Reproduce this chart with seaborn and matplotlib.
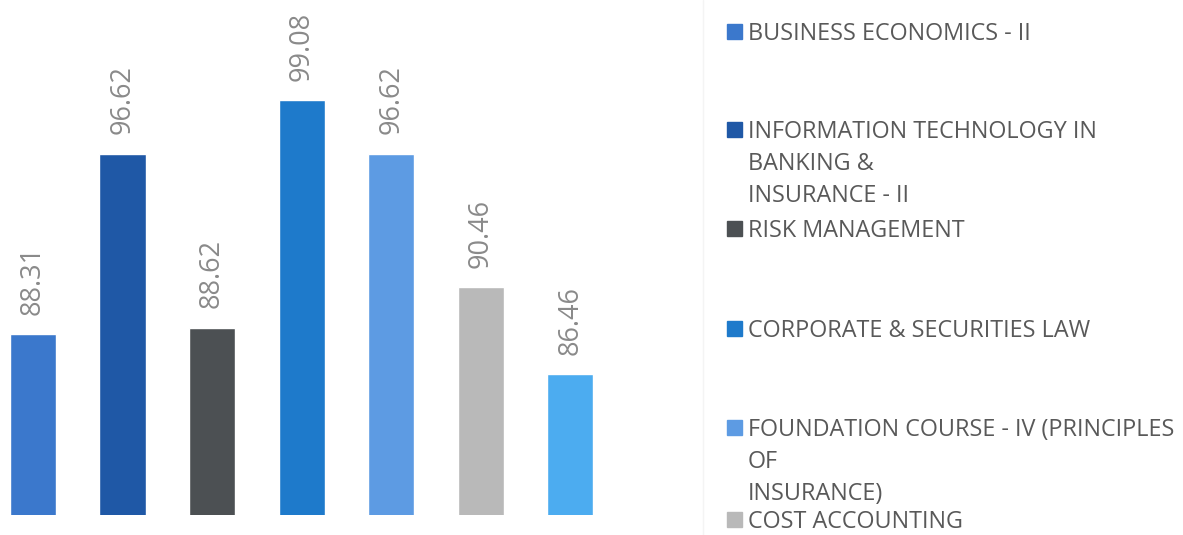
import matplotlib
matplotlib.use("Agg")
import matplotlib.pyplot as plt
from matplotlib.patches import Rectangle
from matplotlib.lines import Line2D
import seaborn as sns

# subject-wise pass percentage
subjects = [
    "BUSINESS ECONOMICS - II",
    "INFORMATION TECHNOLOGY IN\nBANKING &\nINSURANCE - II",
    "RISK MANAGEMENT",
    "CORPORATE & SECURITIES LAW",
    "FOUNDATION COURSE - IV (PRINCIPLES\nOF\nINSURANCE)",
    "COST ACCOUNTING",
    "SUBJECT 7",
]
percentages = [88.31, 96.62, 88.62, 99.08, 96.62, 90.46, 86.46]
colors = ["#3b78cc", "#1f58a6", "#4c5053", "#1e7acb", "#5d9be3", "#b9b9b9", "#4cacf0"]

W, H = 1183, 535
fig = plt.figure(figsize=(W / 100, H / 100), dpi=100)
sns.set_style("white")
plt.rcParams["font.family"] = ["Open Sans", "DejaVu Sans"]

ax = fig.add_axes([0, 20 / H, 615 / W, 515 / H])
sns.barplot(x=list(range(len(subjects))), y=percentages, hue=list(range(len(subjects))),
            palette=colors, width=0.515, legend=False, ax=ax, saturation=1)
ax.set_ylim(80, 80 + 515 / 21.75)
ax.set_xlim(-0.368, 6.5)
ax.axis("off")

for cont in ax.containers:
    ax.bar_label(cont, fmt="%.2f", rotation=90, padding=14, fontsize=19.5, color="#8a8a8a")

# faint separator line between plot and legend
fig.add_artist(Line2D([703 / W, 703 / W], [0, 1], color="#f4f4f4", lw=1))

# legend laid out like the original (fixed slots, wrapped text)
slot_y = [31, 129, 228, 328, 427, 519]
line_h = 32
for yc, name, col in zip(slot_y, subjects[:6], colors[:6]):
    fig.add_artist(Rectangle((727 / W, 1 - (yc + 7.5) / H), 15 / W, 15 / H, color=col))
    for j, line in enumerate(name.split("\n")):
        fig.text(748 / W, 1 - (yc + 3 + j * line_h) / H, line, fontsize=16.8,
                 color="#595959", va="center", ha="left")

fig.savefig("out.png", dpi=100)
